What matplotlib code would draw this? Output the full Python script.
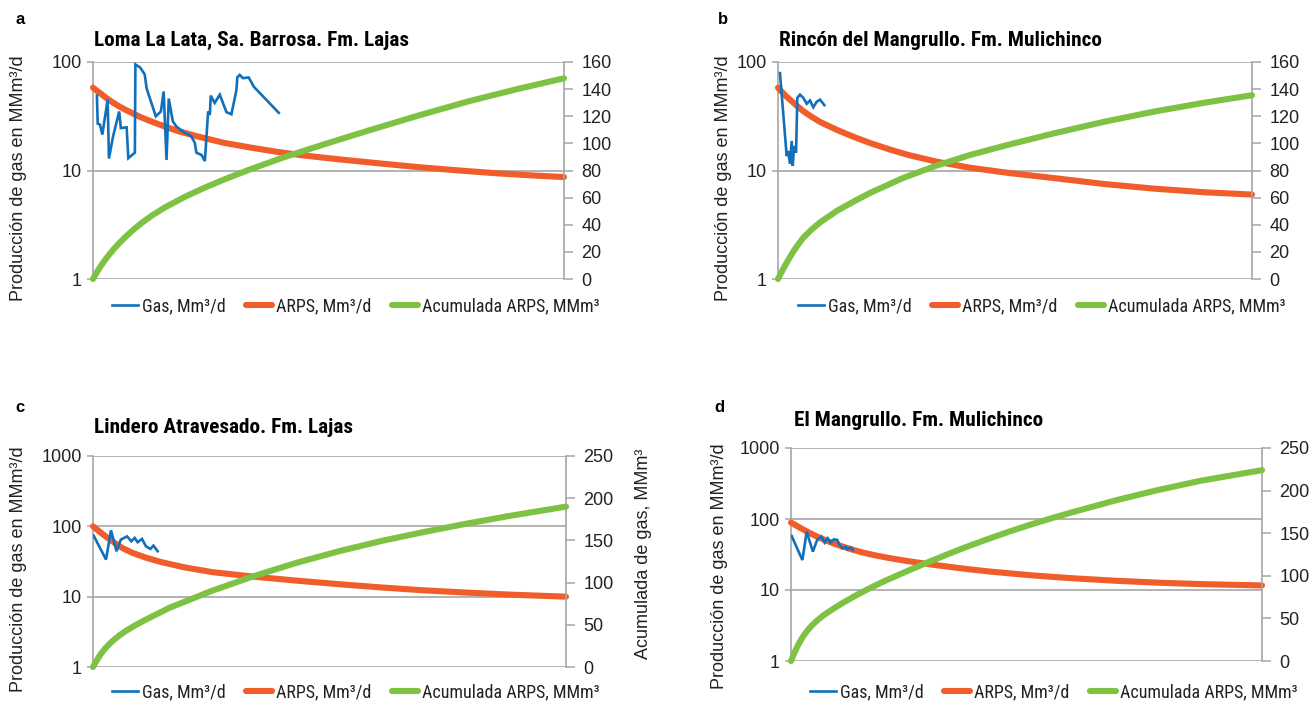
"""Curvas de declinación de gas (datos, ajuste ARPS y acumulada) en cuatro paneles."""

import matplotlib

matplotlib.use("Agg")

import matplotlib.pyplot as plt
from matplotlib import font_manager
from matplotlib.font_manager import FontProperties
from matplotlib.ticker import FixedLocator, FuncFormatter, NullLocator

W, H = 1314, 701

BLUE = "#1170B9"
ORANGE = "#F15D2A"
GREEN = "#7DC242"
GRID = "#A6A6A6"
TEXT = "#222222"

SANS = ["Liberation Sans", "DejaVu Sans"]

YLABEL = "Producción de gas en MMm³/d"
LEGEND = ["Gas, Mm³/d", "ARPS, Mm³/d", "Acumulada ARPS, MMm³"]

# eje x en meses (0-360), sin rótulos

# --- a: Loma La Lata, Sa. Barrosa. Fm. Lajas
a_gas_mes = [3, 3.6, 5.3, 7.1, 11.2, 12.2, 15.3, 20, 21.3, 25.7, 27, 32, 32.4, 36, 39.5,
             41, 48, 51.9, 54, 56.2, 57.9, 61, 63.6, 70, 75, 77.8, 79, 83, 85.5, 88, 89.3,
             90, 93, 96.9, 102, 105.8, 109.6, 110.3, 112.1, 114.6, 119, 123, 142]
a_gas = [49, 27, 26.5, 21.4, 45, 12.9, 20.5, 35, 24.6, 25, 13, 14.6, 95, 89, 77,
         57, 31.6, 35, 53.5, 12.5, 46, 28.4, 25.5, 22.3, 20.8, 18, 14.6, 13.9, 12.2, 35, 32.5,
         49, 42, 50, 34.5, 33, 55, 72, 76, 71, 72, 59, 34]
a_arps_mes = [0, 3, 6, 10, 15, 20, 25, 30, 37, 45, 55, 65, 80, 100, 120, 140, 160, 190,
              220, 250, 280, 310, 340, 360]
a_arps = [58, 54.3, 51, 46.8, 42.5, 39, 36.2, 33.8, 30.8, 28.2, 25.4, 23.1, 20.6, 18, 16.3,
          14.9, 13.8, 12.6, 11.6, 10.7, 10.0, 9.4, 8.95, 8.7]
a_acum_mes = [0, 2, 4, 6, 9, 12, 16, 20, 25, 30, 37, 45, 55, 70, 85, 100, 120, 146, 175,
              211, 249, 287, 325, 360]
a_acum = [0, 3.4, 6.6, 9.6, 13.8, 17.6, 22.2, 26.4, 31.2, 35.6, 41.2, 46.8, 52.8, 60.5,
          67.2, 73.3, 80.8, 89.8, 98.8, 109.6, 120.6, 131, 140.2, 148]

# --- b: Rincón del Mangrullo. Fm. Mulichinco
b_gas_mes = [1.5, 6.6, 7.8, 9.1, 10.4, 11.2, 12.2, 13.7, 14.7, 16.7, 19.2, 21.8, 24.3,
             26.8, 29.4, 31.9, 35.2]
b_gas = [79, 13.6, 15.1, 11.5, 18.7, 11, 16.8, 14.6, 46.8, 50, 46.8, 41.2, 44.2,
         38.3, 43, 45, 40]
b_arps_mes = [0, 3, 6, 10, 14, 19, 25, 32, 45, 58, 70, 85, 100, 120, 146, 175, 210, 248,
              286, 324, 360]
b_arps = [58, 53, 48.6, 44, 39.8, 35.4, 31.6, 28, 23.6, 20.3, 17.9, 15.6, 13.8, 12.1, 10.6,
          9.5, 8.5, 7.5, 6.8, 6.3, 6.0]
b_acum_mes = [0, 2, 4, 6, 9, 12, 15, 19, 25, 32, 45, 58, 70, 95, 120, 146, 175, 210, 248,
              286, 324, 360]
b_acum = [0, 3.8, 7.5, 11, 16, 20.8, 25, 30.2, 36, 41.8, 50.4, 57.4, 63.5, 74.5, 83.5,
          91.5, 99, 107.5, 116, 123.5, 130, 135.5]

# --- c: Lindero Atravesado. Fm. Lajas
c_gas_mes = [0.5, 9.9, 13.7, 17.9, 21.2, 25.9, 29.2, 31.7, 34, 37.3, 40.3, 43.7, 46, 49.2]
c_gas = [73.7, 33.7, 87.7, 44.3, 64.7, 72, 61.3, 68.4, 59.4, 66.2, 52, 47.8, 53.2, 44.3]
c_arps_mes = [0, 3, 6, 10, 14, 18, 23, 30, 40, 52, 70, 91, 123, 155, 188, 220, 252, 285,
              317, 360]
c_arps = [100, 90, 81, 71, 63, 55.5, 48.5, 42, 36, 31, 26, 22.3, 19.2, 16.9, 15, 13.5,
          12.3, 11.4, 10.7, 10]
c_acum_mes = [0, 2, 4, 6, 9, 12, 16, 20, 25, 32, 40, 58, 90, 123, 155, 188, 220, 252,
              285, 317, 360]
c_acum = [0, 5.6, 10.8, 15.5, 21.5, 26.5, 32.3, 37.3, 42.8, 49.3, 56, 70, 90, 108, 123.5,
          137.5, 149.5, 160, 170, 179, 190]

# --- d: El Mangrullo. Fm. Mulichinco
d_gas_mes = [0.5, 8.7, 12, 16.7, 20, 23.2, 25.7, 28, 30.2, 32.8, 35.4, 36.7, 39.2,
             41.8, 43.1, 45.7, 47.3]
d_gas = [57.7, 26.4, 66.4, 34.7, 50.7, 56.5, 46.4, 53.5, 46.4, 51.7, 50.7, 44.5, 38.6,
         40.7, 37.4, 39.7, 36.5]
d_arps_mes = [0, 3, 6, 10, 15, 20, 26, 32, 39, 47, 55, 65, 75, 88, 104, 120, 136, 152,
              168, 184, 200, 216, 248, 280, 313, 360]
d_arps = [89, 83, 77, 70, 62.5, 56.5, 50.5, 45.6, 41.2, 37, 33.6, 30.6, 28.2, 25.7, 23.3,
          21.3, 19.6, 18.2, 17.1, 16.1, 15.3, 14.6, 13.5, 12.7, 12.1, 11.6]
d_acum_mes = [0, 2, 4, 6, 9, 12, 16, 20, 25, 32, 40, 50, 60, 71, 88, 104, 120, 136, 152,
              168, 184, 200, 216, 248, 280, 313, 360]
d_acum = [0, 7.5, 14.3, 20.5, 28.3, 34.8, 41.8, 47.6, 53.8, 61, 68.6, 77.3, 85.3, 93.5,
          105, 115.4, 125.5, 135, 144, 152.5, 160.5, 168, 175, 188.5, 200.5, 211.5, 224]


def condensed_file(bold):
    """Path of an installed narrow/condensed sans face, or None."""
    fonts = font_manager.fontManager.ttflist

    def weight_ok(f):
        w = f.weight if isinstance(f.weight, int) else font_manager.weight_dict.get(f.weight, 400)
        return (w >= 600) == bold and f.style == "normal"

    for name in ("Liberation Sans Narrow", "Roboto Condensed", "Open Sans Condensed",
                 "Noto Sans Condensed", "DejaVu Sans Condensed", "Arial Narrow"):
        for f in fonts:
            if f.name == name and weight_ok(f):
                return f.fname
    for f in fonts:
        if f.stretch in ("condensed", "semi-condensed") and weight_ok(f):
            return f.fname
    return None


_narrow = condensed_file(False)
_narrow_bold = condensed_file(True)
if _narrow:
    LEGEND_FONT = FontProperties(fname=_narrow, size=13)
else:
    LEGEND_FONT = FontProperties(family=SANS, size=11.5)
if _narrow_bold:
    TITLE_FONT = FontProperties(fname=_narrow_bold, size=15.3)
else:
    TITLE_FONT = FontProperties(family=SANS, weight="bold", size=12.5)


def fx(x):
    return x / W


def fy(y):
    return 1 - y / H


def draw_panel(fig, box, series, log_top, right_top, right_step):
    left, top, right, bottom = box
    ax = fig.add_axes([fx(left), fy(bottom), (right - left) / W, (bottom - top) / H])
    ax.set_yscale("log")
    ax.set_ylim(1, log_top)
    ax.set_xlim(0, 360)
    decades = [10 ** k for k in range(0, len(str(log_top)))]
    ax.yaxis.set_major_locator(FixedLocator(decades))
    ax.yaxis.set_minor_locator(NullLocator())
    ax.yaxis.set_major_formatter(FuncFormatter(lambda v, _: f"{v:g}"))
    ax.grid(axis="y", color=GRID, linewidth=1.2)
    ax.set_axisbelow(True)
    ax.xaxis.set_visible(False)
    for side in ("top", "bottom", "right"):
        ax.spines[side].set_visible(False)
    ax.spines["left"].set_color(GRID)
    ax.spines["left"].set_linewidth(1.2)
    ax.tick_params(axis="y", length=4.5, width=1.1, color=GRID, pad=3.5,
                   labelsize=13, labelcolor=TEXT)
    for lab in ax.get_yticklabels():
        lab.set_family(SANS)

    ax2 = ax.twinx()
    ax2.set_ylim(0, right_top)
    ax2.set_yticks(range(0, right_top + 1, right_step))
    for side in ("top", "bottom", "left"):
        ax2.spines[side].set_visible(False)
    ax2.spines["right"].set_color(GRID)
    ax2.spines["right"].set_linewidth(1.2)
    ax2.tick_params(axis="y", length=6.5, width=1.1, color=GRID, pad=6,
                    labelsize=13, labelcolor=TEXT)
    for lab in ax2.get_yticklabels():
        lab.set_family(SANS)

    gas_x, gas_y, arps_x, arps_y, acum_x, acum_y = series
    h_arps, = ax.plot(arps_x, arps_y, color=ORANGE, lw=4.4, solid_capstyle="round",
                      solid_joinstyle="round", clip_on=False, zorder=3)
    h_gas, = ax.plot(gas_x, gas_y, color=BLUE, lw=1.9, solid_joinstyle="miter", zorder=4)
    h_acum, = ax2.plot(acum_x, acum_y, color=GREEN, lw=4.4, solid_capstyle="round",
                       solid_joinstyle="round", clip_on=False, zorder=3)
    return ax, [h_gas, h_arps, h_acum]


def add_labels(fig, handles, letter, letter_xy, title, title_xy, ylabel_xy, legend_xy):
    fig.text(fx(letter_xy[0]), fy(letter_xy[1]), letter, fontsize=12, fontweight="bold",
             family=SANS, ha="left", va="center", color="black")
    fig.text(fx(title_xy[0]), fy(title_xy[1]), title, fontproperties=TITLE_FONT,
             ha="left", va="center", color="black")
    fig.text(fx(ylabel_xy[0]), fy(ylabel_xy[1]), YLABEL, rotation=90, fontsize=13,
             family=SANS, ha="center", va="center", color=TEXT)
    fig.legend(handles, LEGEND, loc="center left",
               bbox_to_anchor=(fx(legend_xy[0]), fy(legend_xy[1])),
               ncol=3, frameon=False, borderpad=0, borderaxespad=0,
               handlelength=1.45, handletextpad=0.2, columnspacing=1.15,
               prop=LEGEND_FONT, labelcolor=TEXT)


fig = plt.figure(figsize=(W / 100, H / 100), dpi=100)

_, ha = draw_panel(fig, (93, 62, 564, 279),
                   (a_gas_mes, a_gas, a_arps_mes, a_arps, a_acum_mes, a_acum), 100, 160, 20)
add_labels(fig, ha, "a", (15, 20), "Loma La Lata, Sa. Barrosa. Fm. Lajas", (94, 40),
           (19, 178), (112, 306))

_, hb = draw_panel(fig, (778, 62, 1252, 279),
                   (b_gas_mes, b_gas, b_arps_mes, b_arps, b_acum_mes, b_acum), 100, 160, 20)
add_labels(fig, hb, "b", (718, 20), "Rincón del Mangrullo. Fm. Mulichinco", (779, 40),
           (723, 178), (798, 306))

_, hc = draw_panel(fig, (93, 456, 566, 667),
                   (c_gas_mes, c_gas, c_arps_mes, c_arps, c_acum_mes, c_acum), 1000, 250, 50)
add_labels(fig, hc, "c", (15, 408), "Lindero Atravesado. Fm. Lajas", (94, 428),
           (19, 569), (112, 692))
fig.text(fx(644), fy(554), "Acumulada de gas, MMm³", rotation=90, fontsize=13,
         family=SANS, ha="center", va="center", color=TEXT)

_, hd = draw_panel(fig, (791, 448, 1262, 661),
                   (d_gas_mes, d_gas, d_arps_mes, d_arps, d_acum_mes, d_acum), 1000, 250, 50)
add_labels(fig, hd, "d", (714, 408), "El Mangrullo. Fm. Mulichinco", (794, 420),
           (719, 566), (810, 692))

fig.savefig("out.png", dpi=100, facecolor="white")
